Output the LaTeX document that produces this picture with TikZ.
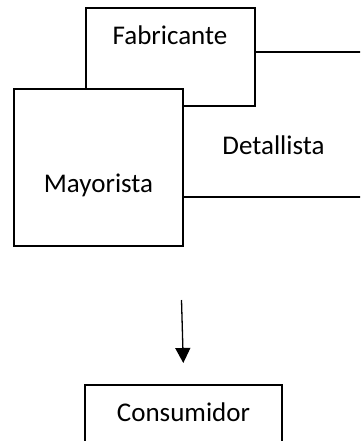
\documentclass[tikz,border=0pt]{standalone}
\usepackage{fontspec}
\setmainfont{Carlito}
\usepackage{tikz}
\usetikzlibrary{arrows.meta}
\tikzset{
    caja/.style={draw=black, fill=white, line width=1.3pt, inner sep=0pt},
    texto/.style={font=\fontsize{27}{32}\selectfont, inner sep=0pt, anchor=base},
    flecha/.style={-{Triangle[width=15pt,length=15pt]}, line width=1.3pt}
}

\begin{document}
\begin{tikzpicture}[x=1pt, y=-1pt]
    \clip (0,0) rectangle (360,441);

    \node[caja, minimum width=230pt, minimum height=145pt] (detallista) at (265,124.5) {};
    \node[texto] (tdetallista) at (273.5,154) {Detallista};

    \node[caja, minimum width=169pt, minimum height=98pt] (fabricante) at (170.5,57) {};
    \node[texto] (tfabricante) at (170,45) {Fabricante};

    \node[caja, minimum width=169pt, minimum height=157pt] (mayorista) at (98.5,167.5) {};
    \node[texto] (tmayorista) at (98.5,192) {Mayorista};

    \node[caja, minimum width=197pt, minimum height=90pt] (consumidor) at (183.5,430) {};
    \node[texto] (tconsumidor) at (183.5,421.5) {Consumidor};

    \coordinate (inicio) at (181.5,300);
    \coordinate (fin) at (183.3,363);
    \path [flecha](inicio) edge (fin);

\end{tikzpicture}
\end{document}
